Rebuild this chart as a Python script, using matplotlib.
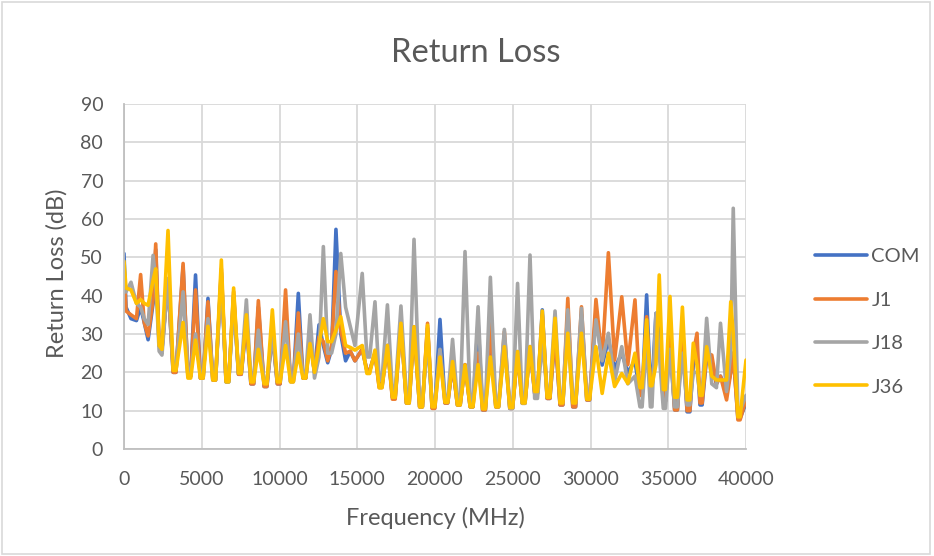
import matplotlib
matplotlib.use("Agg")
import matplotlib.pyplot as plt
from matplotlib.patches import Rectangle

# ---- data ----
freq_mhz = [0, 130, 450, 800, 1070, 1300, 1550, 1870, 2040, 2260, 2440, 2830,
            3160, 3340, 3800, 4110, 4290, 4600, 4910, 5090, 5400, 5710, 5890, 6260,
            6560, 6740, 7050, 7360, 7540, 7870, 8160, 8340, 8640, 9010, 9190, 9540,
            9860, 10040, 10390, 10710, 10890, 11210, 11510, 11690, 11960, 12250, 12540, 12820,
            13100, 13350, 13630, 13940, 14250, 14550, 14850, 15320, 15620, 15800, 16140, 16410,
            16590, 16940, 17260, 17440, 17810, 18160, 18340, 18650, 19010, 19190, 19520, 19810,
            19990, 20320, 20640, 20820, 21130, 21440, 21620, 21930, 22260, 22440, 22770, 23060,
            23240, 23560, 23910, 24090, 24460, 24810, 24990, 25310, 25610, 25790, 26110, 26410,
            26590, 26900, 27210, 27390, 27720, 28040, 28220, 28540, 28860, 29040, 29420, 29760,
            29940, 30350, 30750, 31150, 31550, 32010, 32400, 32860, 33180, 33320, 33610, 33850,
            33950, 34210, 34420, 34680, 34820, 35110, 35410, 35590, 35910, 36210, 36390, 36610,
            36850, 37040, 37180, 37470, 37800, 38100, 38360, 38750, 39020, 39180, 39480, 39620,
            40000]

com = [51, 37, 34, 33.5, 37, 33, 28.5, 38, 52, 27, 26, 44,
       20, 20, 47.5, 19, 19, 45.4, 18.5, 18.5, 39.3, 18, 18, 46,
       17.5, 17.5, 40, 19.5, 19.5, 33, 17, 17, 37, 16.3, 16.3, 30,
       17, 17, 36, 17.6, 17.6, 40.6, 18.5, 18.5, 29, 20, 32.4, 27,
       22.5, 26, 57.3, 30, 23, 25.5, 23, 26, 20.5, 20.5, 25, 16.5,
       16.5, 27, 13.5, 13.5, 32.8, 12, 12, 31.9, 11, 11, 31.5, 10.8,
       10.8, 33.8, 12, 12, 22, 11.5, 11.5, 22, 11, 11, 33.2, 10.2,
       10.2, 30, 11, 11, 28, 10.6, 10.6, 25.4, 12, 12, 26.7, 14.5,
       14.5, 36.3, 13.2, 13.2, 30, 11.5, 11.5, 33, 11, 11, 35, 12.8,
       12.8, 36, 21.9, 28.4, 21, 25, 20, 23, 14, 14, 40.2, 16,
       16, 35.4, 30, 12.5, 12.5, 28, 10.2, 10.2, 30, 9.7, 9.7, 22,
       24, 11.5, 11.5, 24, 22, 17, 19, 15, 20, 25, 8, 8,
       12]

j1 = [47.5, 36, 35, 34, 45.5, 33, 29.5, 39, 53.5, 27, 26, 44,
      20, 20, 48.4, 19, 19, 41.5, 18.5, 18.5, 38.4, 18, 18, 47,
      18, 18, 41, 19.5, 19.5, 34, 17, 17, 38.7, 16.3, 16.3, 31,
      17, 17, 41.5, 17.6, 17.6, 35.5, 18.5, 18.5, 29, 20, 29.3, 28,
      23, 27, 46.3, 31, 25, 25.5, 23, 26, 20.5, 20.5, 25, 16,
      16, 27, 13, 13, 32.8, 12, 12, 31.9, 11, 11, 32.8, 10.6,
      10.6, 25.8, 12, 12, 22, 11.5, 11.5, 22, 11, 11, 25, 10.2,
      10.2, 32.8, 11, 11, 30.6, 10.6, 10.6, 25.4, 12, 12, 26.7, 14.5,
      14.5, 35, 13.2, 13.2, 30, 11.5, 11.5, 39.3, 11, 11, 37.1, 12.8,
      12.8, 39, 23.2, 51.2, 23.2, 39.7, 22, 38.9, 14, 14, 34.5, 16,
      16, 28, 28, 12.5, 12.5, 30, 10.2, 10.2, 33, 10, 10, 25,
      30.2, 12, 12, 25, 24.5, 17, 19, 12.8, 20, 25, 7.6, 7.6,
      13]

j18 = [41, 41, 43.5, 38, 37, 34, 32.5, 50.5, 44, 25.5, 24.5, 44.5,
       21, 21, 41, 20, 20, 30, 19.5, 19.5, 34, 19, 19, 45,
       18.5, 18.5, 38, 20.5, 20.5, 38.9, 18, 18, 31, 17.5, 17.5, 30,
       18, 18, 33.2, 18.5, 18.5, 30, 19, 19, 35, 18.5, 24, 52.8,
       25, 25, 30, 51, 37, 32, 27, 45.8, 24, 24, 38.4, 18,
       18, 37.6, 15, 15, 37.3, 13.5, 13.5, 54.7, 12.5, 12.5, 28, 12,
       12, 26, 13, 13, 28.6, 12.5, 12.5, 51.5, 12, 12, 37.1, 11,
       11, 44.8, 11.5, 11.5, 31.2, 10.6, 10.6, 43.2, 11.9, 11.9, 50.6, 13.2,
       13.2, 28, 15, 15, 36, 13, 13, 36.3, 12.5, 12.5, 36.7, 13.5,
       13.5, 33.7, 23, 30.2, 17.6, 26.7, 17, 19, 11, 11, 28.4, 11,
       11, 35.4, 25, 10.6, 10.6, 26, 11, 11, 25, 11.5, 11.5, 20,
       20, 14.5, 14.5, 34.1, 17, 16, 32.8, 15, 25, 62.8, 10, 10,
       14]

j36 = [49, 42, 41.5, 38, 39, 38, 37.5, 44, 47, 27, 26, 57,
       20.5, 20.5, 33, 18.5, 18.5, 28.4, 18.5, 18.5, 32, 18, 18, 49.3,
       17.5, 17.5, 42, 19.8, 19.8, 35, 17.5, 17.5, 26, 17, 17, 36.3,
       17.5, 17.5, 27, 17.5, 17.5, 25, 18.5, 18.5, 27.5, 20, 27, 34,
       28, 28, 31, 34.5, 27, 26.5, 25.8, 27, 19.7, 19.7, 25.8, 16,
       16, 27, 13.5, 13.5, 32.8, 12, 12, 31.9, 11, 11, 32.3, 11,
       11, 24, 12.2, 12.2, 22.8, 11.5, 11.5, 21.9, 11, 11, 22, 10.5,
       10.5, 24, 11, 11, 26.7, 10.8, 10.8, 25.4, 12, 12, 26.7, 15,
       15, 36, 13.5, 13.5, 34.1, 12, 12, 30.2, 12, 12, 30.2, 13,
       13, 26.7, 14.5, 25, 16.3, 19.7, 17.1, 25, 16, 16, 33.7, 16.5,
       16.5, 22, 45.4, 15.5, 15.5, 39.8, 13.5, 13.5, 37, 12.8, 12.8, 27.6,
       22, 14, 14, 26.7, 19, 18, 18, 18, 38.4, 30, 8.4, 8.4,
       23.2]

series_names = ["COM", "J1", "J18", "J36"]
series_values = [com, j1, j18, j36]
series_colors = ["#4472C4", "#ED7D31", "#A5A5A5", "#FFC000"]

y_ticks = [0, 10, 20, 30, 40, 50, 60, 70, 80, 90]
x_ticks = [0, 5000, 10000, 15000, 20000, 25000, 30000, 35000, 40000]

for v in series_values:
    assert len(v) == len(freq_mhz)

# ---- drawing ----
plt.rcParams["font.family"] = ["Lato", "DejaVu Sans"]
text_color = "#595959"
grid_color = "#D9D9D9"

fig = plt.figure(figsize=(9.34, 5.56), dpi=100)
ax = fig.add_axes([124 / 934, 1 - 449 / 556, (746 - 124) / 934, (449 - 104) / 556])

for name, vals, col in zip(series_names, series_values, series_colors):
    ax.plot(freq_mhz, vals, color=col, lw=2.6, label=name,
            solid_joinstyle="round", solid_capstyle="round")

ax.set_xlim(0, 40000)
ax.set_ylim(0, 90)
ax.set_xticks(x_ticks)
ax.set_yticks(y_ticks)
ax.set_xticklabels([str(v) for v in x_ticks])
ax.set_yticklabels([str(v) for v in y_ticks])
ax.grid(True, color=grid_color, lw=1.3)
ax.set_axisbelow(True)
for s in ["top", "right"]:
    ax.spines[s].set_visible(False)
for s in ["left", "bottom"]:
    ax.spines[s].set_color("#BFBFBF")
    ax.spines[s].set_linewidth(1.3)
ax.tick_params(axis="both", length=0, labelsize=14, colors=text_color)
ax.tick_params(axis="y", pad=15)
ax.tick_params(axis="x", pad=16)

fig.text(435 / 934, 1 - 518 / 556, "Frequency (MHz)", fontsize=17, color=text_color,
         ha="center", va="center")
fig.text(57 / 934, 1 - 273 / 556, "Return Loss (dB)", fontsize=17, color=text_color,
         ha="center", va="center", rotation=90)
fig.text(476 / 934, 1 - 53 / 556, "Return Loss", fontsize=23.5, color=text_color,
         ha="center", va="center")

leg = ax.legend(loc="upper left", bbox_to_anchor=(815 / 934, 1 - 248 / 556),
                bbox_transform=fig.transFigure, frameon=False, fontsize=14.5,
                handlelength=2.6, handletextpad=0.2, labelspacing=1.31,
                borderpad=0, borderaxespad=0)
for t in leg.get_texts():
    t.set_color(text_color)

fig.patches.append(Rectangle((0.002, 0.003), 0.994, 0.993, transform=fig.transFigure,
                             fill=False, edgecolor=grid_color, lw=1.2))

fig.savefig("out.png", dpi=100, facecolor="white")
